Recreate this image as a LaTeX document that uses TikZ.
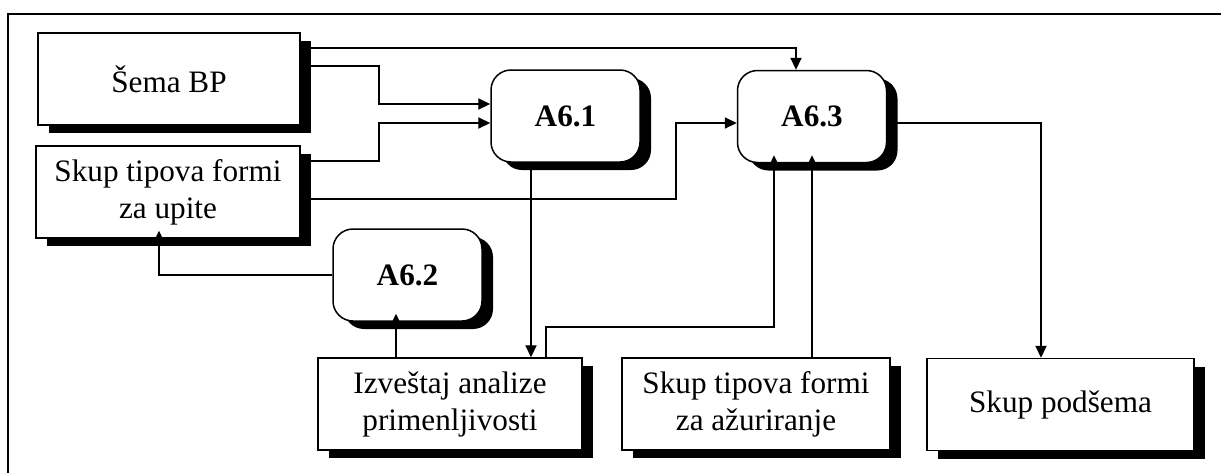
\documentclass[tikz,border=0pt]{standalone}
\usepackage{fontspec}
\setmainfont{Liberation Serif}
\usetikzlibrary{shadows,arrows.meta}

\begin{document}
\begin{tikzpicture}[x=0.5pt,y=-0.5pt,
    box/.style={draw,line width=0.75pt,fill=white,align=center,
      minimum height=46pt,inner sep=2pt,
      drop shadow={shadow xshift=5.5pt,shadow yshift=-4pt,fill=black,opacity=1}},
    proc/.style={box,rounded corners=10pt,minimum width=74.5pt,font=\bfseries},
    flow/.style={line width=0.6pt,-{Triangle[length=6pt,width=5.6pt]}},
    toshadow/.style={shorten >=-4pt}]
    \fontsize{15.6}{18.5}\selectfont
    \useasboundingbox (0,0) rectangle (1221,472);
    \clip (0,0) rectangle (1221,472);
    \draw[line width=1pt] (8,14) rectangle (1240,490);

    % data
    \node[box,minimum width=131pt] (sema) at (169,79) {Šema BP};
    \node[box,minimum width=132pt] (upite) at (168,192) {Skup tipova formi\\za upite};
    \node[box,minimum width=132pt] (izv) at (450,404) {Izveštaj analize\\primenljivosti};
    \node[box,minimum width=134pt] (azu) at (756,404) {Skup tipova formi\\za ažuriranje};
    \node[box,minimum width=133.5pt] (pod) at (1060.5,404.5) {Skup podšema};
    % activities
    \node[proc] (a61) at (565.5,116) {A6.1};
    \node[proc] (a63) at (812,116.5) {A6.3};
    \node[proc] (a62) at (407.5,275) {A6.2};

    \draw[flow] (sema.east |- 0,48) -| (a63.north -| 796,0);
    \draw[flow] (sema.east |- 0,66) -| (379,104) -- (a61.west |- 0,104);
    \draw[flow] (upite.east |- 0,161) -| (379,123) -- (a61.west |- 0,123);
    \draw[flow] (upite.east |- 0,199) -| (676,123) -- (a63.west |- 0,123);
    \draw[flow] (a61.south -| 531,0) -- (izv.north -| 531,0);
    \draw[flow,toshadow] (izv.north -| 546,0) |- (774,327) -- (a63.south -| 774,0);
    \draw[flow,toshadow] (azu.north -| 812,0) -- (a63.south -| 812,0);
    \draw[flow] (a63.east |- 0,123) -| (pod.north -| 1041,0);
    \draw[flow,toshadow] (izv.north -| 396,0) -- (a62.south -| 396,0);
    \draw[flow,toshadow] (a62.west) -| (upite.south -| 159,0);
  \end{tikzpicture}
\end{document}
